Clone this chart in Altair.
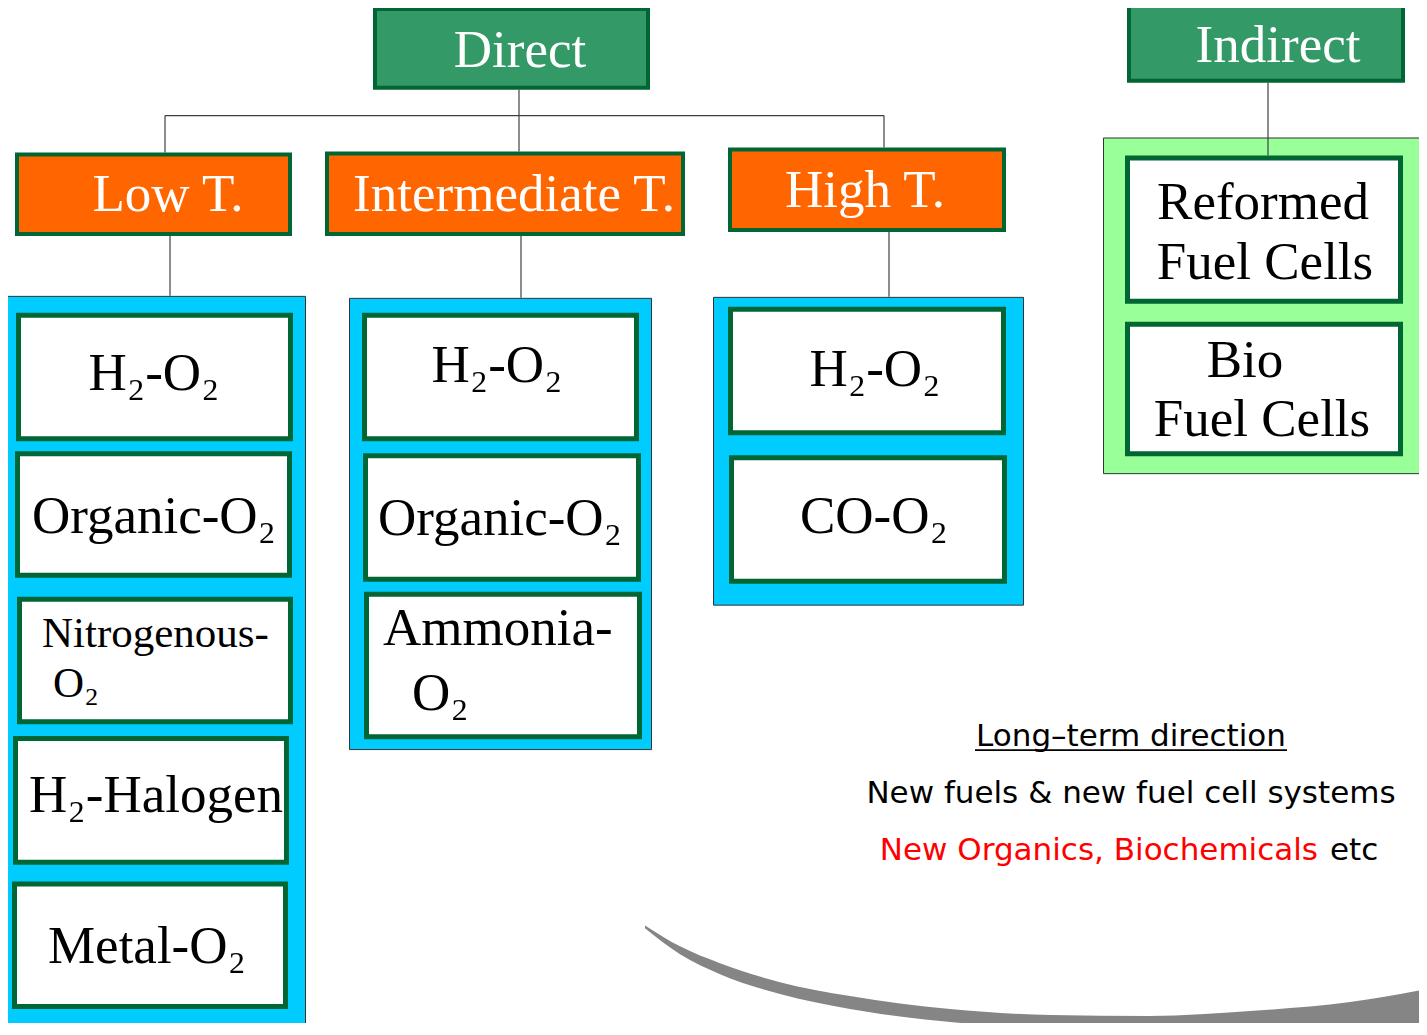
import altair as alt
import pandas as pd

# ---------------- labels (content) ----------------
level1_labels = ["Direct", "Indirect"]
level2_labels = ["Low T.", "Intermediate T.", "High T."]
low_t_labels = ["H₂-O₂", "Organic-O₂", "H₂-Halogen", "Metal-O₂"]
low_t_split_labels = ["Nitrogenous-", "O₂"]
mid_t_labels = ["H₂-O₂", "Organic-O₂"]
mid_t_split_labels = ["Ammonia-", "O₂"]
high_t_labels = ["H₂-O₂", "CO-O₂"]
indirect_labels = ["Reformed", "Fuel Cells", "Bio", "Fuel Cells"]
note_title = "Long–term direction"
note_line1 = "New fuels & new fuel cell systems"
note_line2_red = "New Organics, Biochemicals"
note_line2_black = "etc"

# ---------------- layout (page pixel positions) ----------------
level1_boxes = [(373, 650, 7, 90), (1127, 1405, 0, 83)]
level2_boxes = [(15, 292, 153, 237), (325, 685, 152, 237), (728, 1006, 148, 233)]
panel_boxes = [(2, 306, 297, 1033), (349, 652, 299, 753), (713, 1024, 298, 608), (1103, 1440, 138, 476)]
panel_fills = ["#00CCFF", "#00CCFF", "#00CCFF", "#99FF99"]
item_boxes = [
    (16, 293, 314, 443), (15, 292, 453, 580), (17, 293, 599, 727), (13, 289, 739, 868), (12, 288, 885, 1013),
    (362, 639, 314, 443), (363, 641, 455, 584), (364, 642, 594, 742),
    (728, 1006, 308, 437), (729, 1007, 457, 586),
    (1125, 1403, 156, 305), (1125, 1403, 323, 458),
]
connectors = [
    (519, 519, 90, 152), (165, 884, 116, 116), (165, 165, 116, 153), (884, 884, 116, 148),
    (170, 170, 237, 297), (521, 521, 237, 299), (889, 889, 233, 298), (1268, 1268, 83, 156),
]
level1_text_pos = [(520, 67), (1278, 62)]
level2_text_pos = [(168, 212), (514, 212), (865, 208)]
low_t_text_pos = [(154, 392), (154, 535), (156, 815), (147, 967)]
low_t_split_pos = [(42, 650), (53, 700)]
mid_t_text_pos = [(497, 383), (500, 537)]
mid_t_split_pos = [(383, 648), (412, 713)]
high_t_text_pos = [(875, 387), (874, 535)]
indirect_text_pos = [(1263, 220), (1265, 280), (1245, 378), (1262, 438)]

# decorative shadow arc
arc_x = [645, 680, 720, 780, 850, 950, 1050, 1150, 1250, 1350, 1427]
arc_top = [929, 950, 967, 986, 1000, 1013, 1019, 1020, 1015, 1006, 993]
arc_bottom = [932, 958, 978, 998, 1013, 1026, 1032, 1034, 1034, 1032, 1030]

X_DOMAIN = [8, 1419]
Y_DOMAIN = [8, 1027]


def xs(f="x"):
    return alt.X(f"{f}:Q", scale=alt.Scale(domain=X_DOMAIN, nice=False, zero=False), axis=None)


def ys(f="y"):
    return alt.Y(f"{f}:Q", scale=alt.Scale(domain=Y_DOMAIN, nice=False, zero=False, reverse=True), axis=None)


def rect_rows(boxes, fills, stroke, sw):
    rows = []
    for (x0, x1, y0, y1), fill in zip(boxes, fills):
        h = sw / 2.0
        rows.append(dict(x=x0 + h, x2=x1 - h, y=y0 + h, y2=y1 - h, fill=fill, stroke=stroke, sw=sw))
    return pd.DataFrame(rows)


def rect_layer(df):
    return alt.Chart(df).mark_rect().encode(
        x=xs(), x2="x2:Q", y=ys(), y2="y2:Q",
        fill=alt.Fill("fill:N", scale=None),
        stroke=alt.Stroke("stroke:N", scale=None),
        strokeWidth=alt.StrokeWidth("sw:Q", scale=None),
    )


def text_rows(labels, pos, size, color):
    return [dict(label=l, x=p[0], y=p[1], size=size, color=color) for l, p in zip(labels, pos)]


def text_layer(rows, font, align):
    return alt.Chart(pd.DataFrame(rows)).mark_text(font=font, align=align, baseline="alphabetic").encode(
        x=xs(), y=ys(), text="label:N",
        size=alt.Size("size:Q", scale=None),
        color=alt.Color("color:N", scale=None),
    )


# shadow arc
arc_df = pd.DataFrame(dict(x=arc_x, y=arc_top, y2=arc_bottom))
arc = alt.Chart(arc_df).mark_area(color="#858585", interpolate="monotone").encode(
    x=xs(), y=ys(), y2="y2:Q"
)

# connectors
con_df = pd.DataFrame([dict(x=a, x2=b, y=c, y2=d) for a, b, c, d in connectors])
con = alt.Chart(con_df).mark_rule(color="#404040", strokeWidth=1.2).encode(
    x=xs(), x2="x2:Q", y=ys(), y2="y2:Q"
)

panels = rect_layer(rect_rows(panel_boxes, panel_fills, "#333333", 1))
lvl1 = rect_layer(rect_rows(level1_boxes, ["#339966"] * 2, "#006633", 4))
lvl2 = rect_layer(rect_rows(level2_boxes, ["#FF6600"] * 3, "#006633", 4))
items = rect_layer(rect_rows(item_boxes, ["#FFFFFF"] * len(item_boxes), "#006633", 5))

SERIF = "Liberation Serif"
white_center = text_rows(level1_labels, level1_text_pos, 53, "#FFFFFF") + \
    text_rows(level2_labels, level2_text_pos, 53, "#FFFFFF")
black_center = (
    text_rows(low_t_labels, low_t_text_pos, 53, "#000000")
    + text_rows(mid_t_labels, mid_t_text_pos, 53, "#000000")
    + text_rows(high_t_labels, high_t_text_pos, 53, "#000000")
    + text_rows(indirect_labels, indirect_text_pos, 53, "#000000")
)
black_left = text_rows(low_t_split_labels, low_t_split_pos, 43, "#000000") + \
    text_rows(mid_t_split_labels, mid_t_split_pos, 53, "#000000")

t1 = text_layer(white_center, SERIF, "center")
t2 = text_layer(black_center, SERIF, "center")
t3 = text_layer(black_left, SERIF, "left")

SANS = "DejaVu Sans"
note_center = [dict(label=note_title, x=1131, y=749, size=31, color="#000000"),
               dict(label=note_line1, x=1131, y=806, size=31, color="#000000")]
note_right = [dict(label=note_line2_red, x=1318, y=863, size=31, color="#FF0000")]
note_left = [dict(label=note_line2_black, x=1330, y=863, size=31, color="#000000")]
n1 = text_layer(note_center, SANS, "center")
n2 = text_layer(note_right, SANS, "right")
n3 = text_layer(note_left, SANS, "left")

underline = alt.Chart(pd.DataFrame([dict(x=975, x2=1287, y=753, y2=753)])).mark_rule(
    color="#000000", strokeWidth=1.6
).encode(x=xs(), x2="x2:Q", y=ys(), y2="y2:Q")

chart = alt.layer(
    arc, panels, con, lvl1, lvl2, items, t1, t2, t3, n1, n2, n3, underline
).properties(
    width=1411, height=1015, padding=0,
    autosize=alt.AutoSizeParams(type="none"),
    background="#FFFFFF",
).configure_view(stroke=None)

chart.save("out.html", embed_options={"renderer": "svg", "actions": False})
